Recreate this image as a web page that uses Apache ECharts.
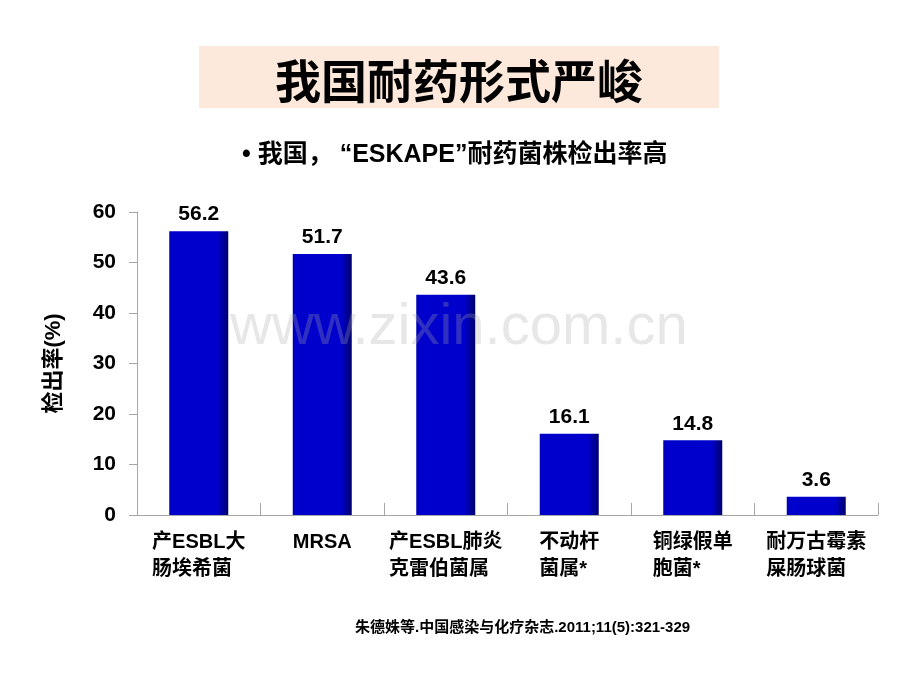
<!DOCTYPE html>
<html>
<head>
<meta charset="utf-8">
<script src="https://cdn.jsdelivr.net/npm/echarts@6/dist/echarts.min.js"></script>
<style>
html,body{margin:0;padding:0;background:#fff;}
#chart{width:920px;height:690px;}
</style>
</head>
<body>
<div id="chart"></div>
<script>
const titleText = '我国耐药形式严峻';
const subtitleText = '• 我国， “ESKAPE”耐药菌株检出率高';
const categories = ['产ESBL大\n肠埃希菌', 'MRSA', '产ESBL肺炎\n克雷伯菌属', '不动杆\n菌属*', '铜绿假单\n胞菌*', '耐万古霉素\n屎肠球菌'];
const values = [56.2, 51.7, 43.6, 16.1, 14.8, 3.6];
const yAxisName = '检出率(%)';
const yMin = 0, yMax = 60, yInterval = 10;
const footnote = '朱德姝等.中国感染与化疗杂志.2011;11(5):321-329';
const watermark = 'www.zixin.com.cn';

const FONT = '"Liberation Sans", Arial, "Noto Sans CJK SC", sans-serif';
const chart = echarts.init(document.getElementById('chart'), null, {renderer: 'canvas'});

chart.setOption({
  backgroundColor: '#ffffff',
  animation: false,
  grid: {left: 137, right: 42, top: 212, bottom: 175},
  xAxis: {
    type: 'category',
    data: categories,
    axisLine: {lineStyle: {color: '#a6a6a6', width: 1}},
    axisTick: {show: true, inside: true, length: 12, alignWithLabel: false, lineStyle: {color: '#a6a6a6'}},
    axisLabel: {
      margin: 14,
      interval: 0,
      formatter: function (v) { return v.split('\n').map(l => '{a|' + l + '}').join('\n'); },
      rich: {a: {align: 'left', fontSize: 20, lineHeight: 27, color: '#000', fontFamily: FONT, fontWeight: 'bold'}}
    }
  },
  yAxis: {
    type: 'value',
    min: yMin, max: yMax, interval: yInterval,
    name: yAxisName,
    nameLocation: 'middle',
    nameGap: 72,
    nameRotate: 90,
    nameTextStyle: {fontSize: 22, fontWeight: 'bold', color: '#000', fontFamily: FONT},
    axisLine: {show: true, lineStyle: {color: '#a6a6a6', width: 1}},
    axisTick: {show: true, length: 8, lineStyle: {color: '#a6a6a6'}},
    splitLine: {show: false},
    axisLabel: {margin: 21, fontSize: 21, fontWeight: 'bold', color: '#000', fontFamily: FONT}
  },
  series: [{
    type: 'bar',
    data: values,
    barWidth: 59,
    itemStyle: {
      color: new echarts.graphic.LinearGradient(0, 0, 1, 0, [
        {offset: 0, color: '#0000b4'},
        {offset: 0.06, color: '#0000cc'},
        {offset: 0.82, color: '#0000cc'},
        {offset: 1, color: '#00006e'}
      ])
    },
    label: {show: true, position: 'top', distance: 6, fontSize: 21, fontWeight: 'bold', color: '#000', fontFamily: FONT,
      formatter: p => p.value.toFixed(1)}
  }],
  graphic: [
    {type: 'rect', shape: {x: 199, y: 46, width: 520, height: 62}, style: {fill: '#fde9db'}, z: -1},
    {type: 'text', x: 459, y: 81, style: {text: titleText, fontSize: 46, fontFamily: '"Noto Sans CJK SC", sans-serif', fontWeight: 'bold', fill: '#000', align: 'center', verticalAlign: 'middle'}},
    {type: 'text', x: 242, y: 155, style: {text: subtitleText, fontSize: 25, fontFamily: FONT, fontWeight: 'bold', fill: '#000', align: 'left', verticalAlign: 'middle'}},
    {type: 'text', x: 355, y: 628, style: {text: footnote, fontSize: 15, fontFamily: FONT, fontWeight: 'bold', fill: '#000', align: 'left', verticalAlign: 'middle'}},
    {type: 'text', x: 230, y: 328, z: 100, style: {text: watermark, fontSize: 58, fontFamily: FONT, fill: 'rgba(170,170,170,0.28)', align: 'left', verticalAlign: 'middle'}}
  ]
});
</script>
</body>
</html>
